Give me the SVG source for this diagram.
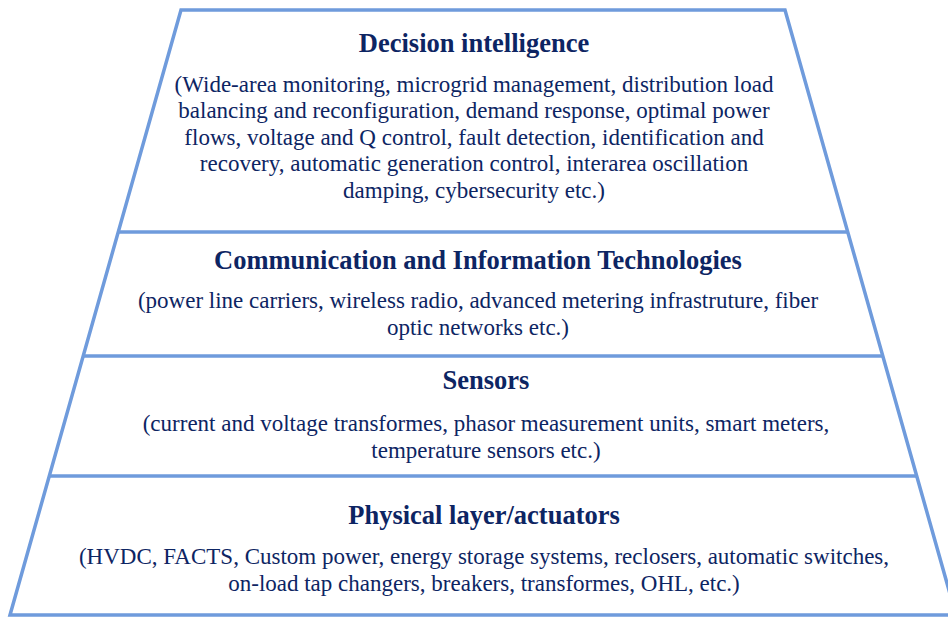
<svg xmlns="http://www.w3.org/2000/svg" width="948" height="617" viewBox="0 0 948 617">
<style>
.ln{stroke:#6f9bdc;stroke-width:3.5;fill:none;stroke-linecap:butt}
.t{font-family:'Liberation Serif','Times New Roman',Times,serif;font-weight:bold;font-size:26.5px;fill:#0d2563;text-anchor:middle}
.b{font-family:'Liberation Serif','Times New Roman',Times,serif;font-size:23px;fill:#0d2563;text-anchor:middle}
</style>
<rect width="948" height="617" fill="#ffffff"/>
<g id="outline">
<path class="ln" d="M181,10 L785,10 L956,615 L10,615 Z"/>
</g>
<g id="connectors">
<line class="ln" x1="118" y1="232" x2="847" y2="232"/>
<line class="ln" x1="84" y1="356" x2="882" y2="356"/>
<line class="ln" x1="50" y1="476" x2="917" y2="476"/>
</g>
<g id="decision">
<text class="t" x="474" y="52">Decision intelligence</text>
<text class="b" x="474" y="92">(Wide-area monitoring, microgrid management, distribution load</text>
<text class="b" x="474" y="118">balancing and reconfiguration, demand response, optimal power</text>
<text class="b" x="474" y="145">flows, voltage and Q control, fault detection, identification and</text>
<text class="b" x="474" y="171">recovery, automatic generation control, interarea oscillation</text>
<text class="b" x="474" y="198">damping, cybersecurity etc.)</text>
</g>
<g id="communication">
<text class="t" x="478" y="269">Communication and Information Technologies</text>
<text class="b" x="478" y="308">(power line carriers, wireless radio, advanced metering infrastruture, fiber</text>
<text class="b" x="478" y="335">optic networks etc.)</text>
</g>
<g id="sensors">
<text class="t" x="486" y="389">Sensors</text>
<text class="b" x="486" y="431">(current and voltage transformes, phasor measurement units, smart meters,</text>
<text class="b" x="486" y="458">temperature sensors etc.)</text>
</g>
<g id="physical">
<text class="t" x="484" y="524">Physical layer/actuators</text>
<text class="b" x="484" y="564">(HVDC, FACTS, Custom power, energy storage systems, reclosers, automatic switches,</text>
<text class="b" x="484" y="591">on-load tap changers, breakers, transformes, OHL, etc.)</text>
</g>
</svg>
